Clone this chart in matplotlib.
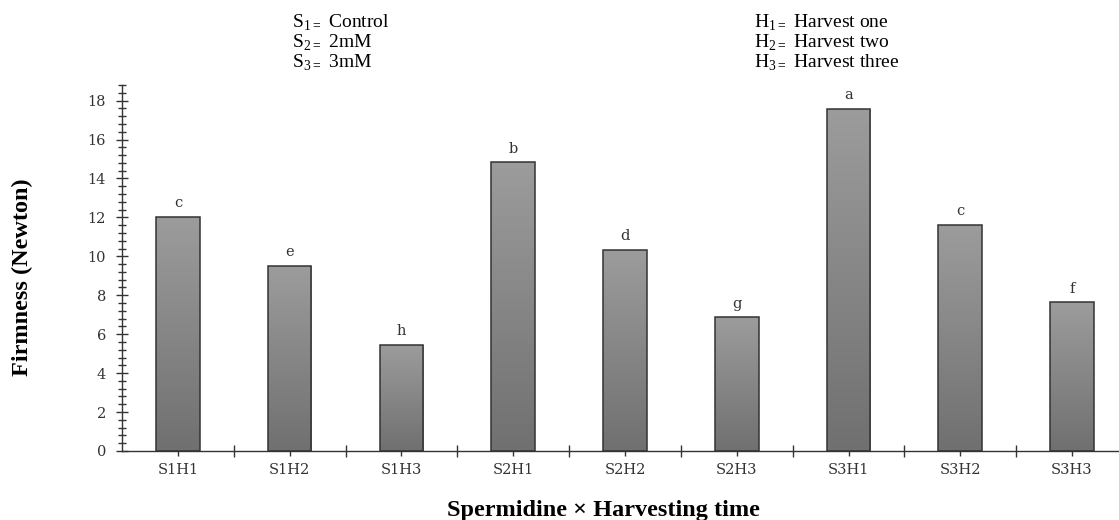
import numpy as np
import matplotlib
matplotlib.use("Agg")
import matplotlib.pyplot as plt
from matplotlib.ticker import MultipleLocator, FixedLocator

# donnees
traitements = ['S1H1', 'S1H2', 'S1H3', 'S2H1', 'S2H2', 'S2H3', 'S3H1', 'S3H2', 'S3H3']
fermete = [12.0, 9.5, 5.47, 14.82, 10.34, 6.86, 17.57, 11.59, 7.63]
lettres = ['c', 'e', 'h', 'b', 'd', 'g', 'a', 'c', 'f']
legende_s = [('1', 'Control'), ('2', '2mM'), ('3', '3mM')]
legende_h = [('1', 'Harvest one'), ('2', 'Harvest two'), ('3', 'Harvest three')]

plt.rcParams['mathtext.fontset'] = 'custom'
plt.rcParams['mathtext.rm'] = 'Liberation Serif'

W, H = 1119, 520
fig = plt.figure(figsize=(W / 100, H / 100), dpi=100)
ax = fig.add_axes([122 / W, (H - 451) / H, (W - 122) / W, (451 - 85) / H])

x = np.arange(len(traitements))
bars = ax.bar(x, fermete, width=0.39, color='none', edgecolor='#333333', linewidth=1.1, zorder=3)

# degrade vertical dans chaque barre
grad = np.linspace(0, 1, 256).reshape(-1, 1)
cmap = matplotlib.colors.LinearSegmentedColormap.from_list('g', ['#707070', '#9c9c9c'])
for b in bars:
    x0, w, h = b.get_x(), b.get_width(), b.get_height()
    im = ax.imshow(grad, extent=[x0, x0 + w, 0, h], origin='lower', cmap=cmap,
                   aspect='auto', zorder=2)
    im.set_clip_path(b)

for xi, v, l in zip(x, fermete, lettres):
    ax.annotate(l, (xi, v), xytext=(0, 5), textcoords='offset points', ha='center',
                va='bottom', fontsize=10.5, family='DejaVu Serif', color='#333333')

ax.set_xlim(-0.5, 8.42)
ax.set_ylim(0, 18.8)
ax.spines['top'].set_visible(False)
ax.spines['right'].set_visible(False)
for s in ['left', 'bottom']:
    ax.spines[s].set_color('#333333')
    ax.spines[s].set_linewidth(1.0)

ax.yaxis.set_major_locator(MultipleLocator(2))
ax.yaxis.set_minor_locator(MultipleLocator(0.4))
ax.tick_params(axis='y', which='major', direction='inout', length=9, width=1.0,
               color='#333333', pad=7)
ax.tick_params(axis='y', which='minor', direction='inout', length=6, width=1.0, color='#333333')

ax.xaxis.set_major_locator(FixedLocator(np.arange(-0.5, 8.5, 1.0)[1:]))
ax.xaxis.set_minor_locator(FixedLocator(x))
ax.set_xticks(x, traitements, minor=True)
ax.set_xticklabels([], minor=False)
ax.tick_params(axis='x', which='major', direction='inout', length=9, width=1.0, color='#333333')
ax.tick_params(axis='x', which='minor', direction='inout', length=7, width=1.0,
               color='#333333', pad=5)

for lab in ax.get_yticklabels() + ax.get_xticklabels(minor=True):
    lab.set_family('DejaVu Serif')
    lab.set_fontsize(10.5)
    lab.set_color('#333333')

fig.text(22 / W, 1 - 277 / H, 'Firmness (Newton)', rotation=90, ha='center', va='center',
         family='Liberation Serif', fontweight='bold', fontsize=17.5)
fig.text(603 / W, 1 - 516 / H, 'Spermidine \u00d7 Harvesting time', ha='center', va='baseline',
         family='Liberation Serif', fontweight='bold', fontsize=17.5)

for i, (k, t) in enumerate(legende_s):
    fig.text(292 / W, 1 - (28 + 20 * i) / H, 'S$_{%s=}$ %s' % (k, t), ha='left', va='baseline',
             family='Liberation Serif', fontsize=14)
for i, (k, t) in enumerate(legende_h):
    fig.text(754 / W, 1 - (28 + 20 * i) / H, 'H$_{%s=}$ %s' % (k, t), ha='left', va='baseline',
             family='Liberation Serif', fontsize=14)

fig.savefig('out.png', dpi=100)
